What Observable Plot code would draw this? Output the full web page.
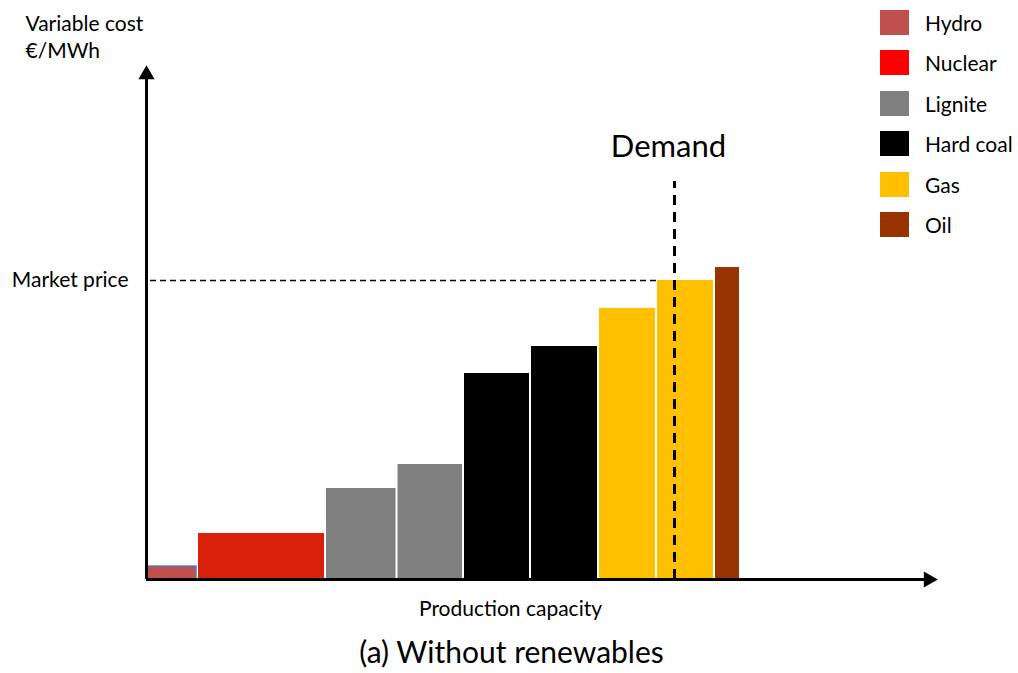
<!DOCTYPE html>
<html>
<head>
<meta charset="utf-8">
<script src="https://cdn.jsdelivr.net/npm/d3@7"></script>
<script src="https://cdn.jsdelivr.net/npm/@observablehq/plot@0.6"></script>
<style>
  html, body { margin: 0; padding: 0; background: #fff; }
  #wrap { position: relative; width: 1018px; height: 673px; font-family: Lato, "Open Sans", sans-serif; }
  #legend { position: absolute; left: 880px; top: 0; }
  .item { position: absolute; left: 0; display: flex; align-items: center; white-space: nowrap; }
  .sw { width: 29px; height: 25px; margin-right: 16px; }
  .lab { font-size: 21px; color: #000; }
</style>
</head>
<body>
<div id="wrap"><div id="chart"></div><div id="legend"></div></div>
<script>
// --- data ---
const plants = ["Hydro", "Nuclear", "Lignite", "Lignite", "Hard coal", "Hard coal", "Gas", "Gas", "Oil"];
const capacities = [10.2, 25.6, 14.3, 13.3, 13.4, 13.6, 11.6, 11.6, 5.2];
const costs = [2.6, 9.2, 18.2, 23.0, 41.2, 46.6, 54.2, 59.8, 62.4];
const demand = 105.6;
const marketPrice = 59.8;
const legendNames = ["Hydro", "Nuclear", "Lignite", "Hard coal", "Gas", "Oil"];
const barColors = ["#c0504d", "#d9200a", "#808080", "#000000", "#ffc000", "#993300"];
const legendColors = ["#c0504d", "#ff0000", "#808080", "#000000", "#ffc000", "#993300"];

const ends = d3.cumsum(capacities);
const bars = plants.map((p, i) => ({
  plant: p,
  x1: ends[i] - capacities[i],
  x2: ends[i],
  cost: costs[i],
  fill: barColors[legendNames.indexOf(p)]
}));
const gas2Start = bars[7].x1;

const xMax = 158, yMax = 102.6;

const chart = Plot.plot({
  width: 1018,
  height: 673,
  marginLeft: 146,
  marginRight: 82,
  marginTop: 66,
  marginBottom: 94,
  x: { domain: [0, xMax], axis: null },
  y: { domain: [0, yMax], axis: null },
  style: { fontFamily: "Lato, 'Open Sans', sans-serif", background: "#fff" },
  marks: [
    Plot.rectY(bars, {
      x1: "x1", x2: "x2", y1: 0, y2: "cost",
      fill: "fill",
      stroke: d => d.plant === "Hydro" ? "#4f81bd" : "none",
      strokeWidth: 1.5,
      insetLeft: 1, insetRight: 1
    }),
    Plot.ruleY([marketPrice], { x1: 0.8, x2: gas2Start, stroke: "#000", strokeWidth: 1.3, strokeDasharray: "6,4" }),
    Plot.ruleX([demand], { y1: 0, y2: 79.6, stroke: "#000", strokeWidth: 3, strokeDasharray: "10,7" }),
    // axes with arrowheads
    Plot.ruleX([0], { y1: 0, y2: yMax - 1.5, stroke: "#000", strokeWidth: 3 }),
    Plot.ruleY([0], { x1: 0, x2: xMax - 1.5, stroke: "#000", strokeWidth: 3 }),
    Plot.dot([0], { x: 0, y: yMax - 1.6, symbol: "triangle", r: 6, fill: "#000" }),
    Plot.dot([0], { x: xMax - 1.6, y: 0, symbol: "triangle", r: 6, fill: "#000", rotate: 90 }),
    // labels
    Plot.text(["Market price"], { frameAnchor: "left", y: marketPrice, dx: -18, textAnchor: "end", fontSize: 21, fill: "#000" }),
    Plot.text(["Demand"], { x: demand, y: 79.6, dx: -6, dy: -34, fontSize: 31, fill: "#000" }),
    Plot.text(["Variable cost"], { frameAnchor: "top-left", dx: -121, dy: -50, textAnchor: "start", fontSize: 21, fill: "#000" }),
    Plot.text(["€/MWh"], { frameAnchor: "top-left", dx: -121, dy: -23, textAnchor: "start", fontSize: 21, fill: "#000" }),
    Plot.text(["Production capacity"], { frameAnchor: "bottom", dx: -31, dy: 36, fontSize: 21, fill: "#000" }),
    Plot.text(["(a) Without renewables"], { frameAnchor: "bottom", dx: -30, dy: 83, fontSize: 30, fill: "#000" })
  ]
});
document.getElementById("chart").appendChild(chart);

const legend = document.getElementById("legend");
legendNames.forEach((n, i) => {
  const it = document.createElement("div");
  it.className = "item";
  it.style.top = (10 + i * 40.4) + "px";
  it.innerHTML = `<div class="sw" style="background:${legendColors[i]}"></div><span class="lab">${n}</span>`;
  legend.appendChild(it);
});
</script>
</body>
</html>
